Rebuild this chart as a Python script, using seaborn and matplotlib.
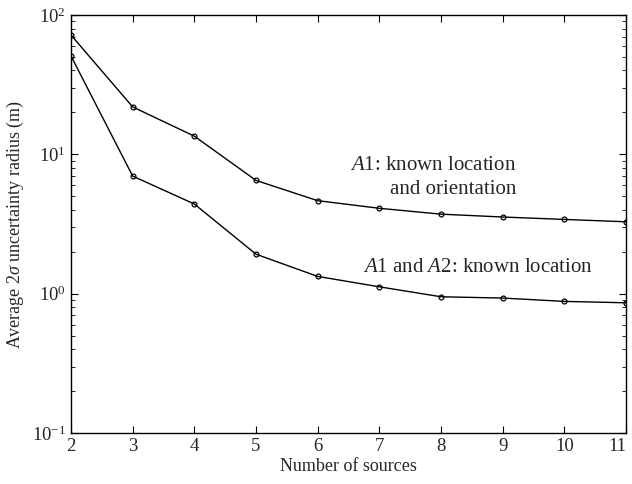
import matplotlib
matplotlib.use('Agg')
import matplotlib.pyplot as plt
import pandas as pd
import seaborn as sns

# number of sources vs. average 2-sigma uncertainty radius (m)
n_sources = [2, 3, 4, 5, 6, 7, 8, 9, 10, 11]
radius_a1 = [71.8, 21.9, 13.5, 6.5, 4.65, 4.1, 3.72, 3.55, 3.41, 3.28]
radius_a1a2 = [50.8, 6.98, 4.4, 1.92, 1.33, 1.12, 0.95, 0.93, 0.88, 0.86]

df = pd.DataFrame({
    'n': n_sources * 2,
    'radius': radius_a1 + radius_a1a2,
    'case': ['a1'] * len(n_sources) + ['a1a2'] * len(n_sources),
})

sns.set_style('ticks')
plt.rcParams['font.family'] = ['Liberation Serif', 'DejaVu Serif']
plt.rcParams['mathtext.fontset'] = 'custom'
plt.rcParams['mathtext.rm'] = 'Liberation Serif'
plt.rcParams['mathtext.it'] = 'Liberation Serif:italic'

fig = plt.figure(figsize=(6.32, 4.84), dpi=100)
ax = fig.add_axes([71 / 632, 1 - 433 / 484, 555 / 632, 418 / 484])

sns.lineplot(data=df, x='n', y='radius', units='case', estimator=None,
             color='black', lw=1.0, marker='o', markersize=3.5,
             markerfacecolor='none', markeredgecolor='black',
             markeredgewidth=0.9, ax=ax, legend=False)

ax.set_yscale('log')
ax.set_ylim(0.1, 100)
ax.set_xlim(2, 11)
ax.set_xticks(n_sources)
ax.tick_params(which='both', direction='in', top=True, right=True,
               labelsize=13.5, color='black')
ax.tick_params(which='major', length=5)
ax.tick_params(which='minor', length=3)
for s in ax.spines.values():
    s.set_visible(True)
    s.set_color('black')
    s.set_linewidth(1.0)
# keep the last tick label inside the figure
ax.get_xticklabels()[-1].set_horizontalalignment('right')
ax.get_xticklabels()[-1].set_x(11.07)

ax.set_xlabel('Number of sources', fontsize=13, labelpad=2)
ax.set_ylabel(r'Average 2$\sigma$ uncertainty radius (m)', fontsize=13,
              labelpad=4)

ax.text(9.23, 8.3, r'$\it{A}$1: known location', fontsize=15,
        ha='right', va='center')
ax.text(9.23, 5.6, 'and orientation', fontsize=15, ha='right', va='center')
ax.text(10.46, 1.53, r'$\it{A}$1 and $\it{A}$2: known location', fontsize=15,
        ha='right', va='center')

fig.savefig('out.png', dpi=100)
